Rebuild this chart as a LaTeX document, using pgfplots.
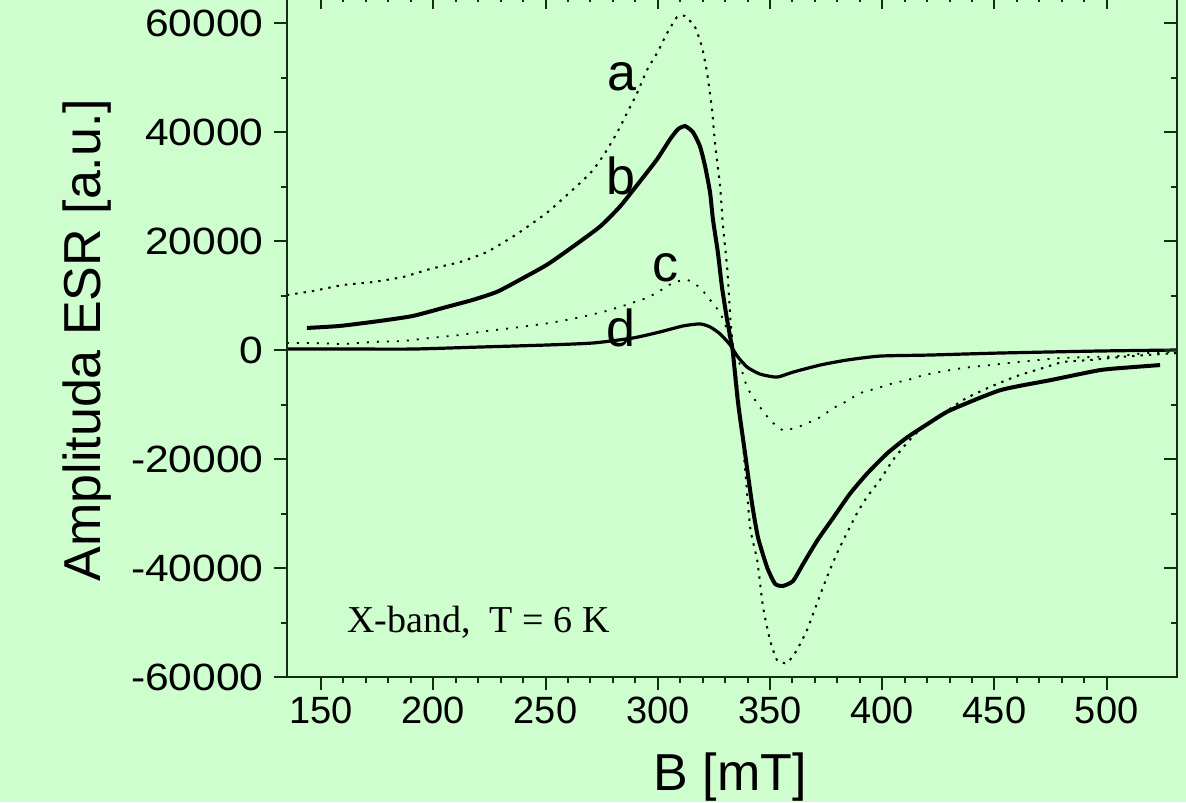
\documentclass[border=0pt]{standalone}
\usepackage{pgfplots}
\pgfplotsset{compat=1.18}
\usepackage{pgfplotstable}
\usepackage{fontspec}
\setmainfont{Liberation Sans}
\newfontfamily\seriff{Liberation Serif}
\newfontfamily\ytickf{Liberation Sans}[FakeStretch=1.12]
\definecolor{bg}{RGB}{206,253,206}
\definecolor{ax}{RGB}{20,45,20}

\pgfplotstableread{
x y
134.8 10090
146.4 10830
159.8 11930
173.2 12480
186.5 13400
198.5 14860
211.9 16150
223.9 17980
237.3 21290
251.0 25320
265.4 30640
271.2 33030
276.5 36150
281.8 39820
286.3 43490
290.8 47160
295.2 51380
299.7 54500
304.2 58170
308.6 61100
312.1 61290
316.6 59270
319.7 55600
322.0 50830
324.2 44040
325.5 37980
327.8 29910
329.1 22570
330.9 15230
332.3 6055
333.6 0
337.1 -12845
341.1 -32300
344.3 -38540
346.9 -47160
350.0 -53215
353.1 -56885
357.6 -57435
362.0 -55050
366.5 -51380
371.0 -46425
375.4 -41655
379.9 -37250
384.3 -33580
388.8 -29910
393.2 -26975
399.0 -23855
404.8 -20185
411.0 -17065
416.8 -14680
436.0 -9175
448.0 -6790
460.0 -4770
471.6 -3300
480.5 -2200
492.6 -1835
506.0 -1285
518.0 -917
531.0 -550
}\curvea

\pgfplotstableread{
x y
143.7 4050
158.4 4420
176.3 5340
191.0 6260
206.1 7920
217.7 9210
228.4 10680
238.6 12890
250.7 15660
262.2 18970
274.3 22660
283.2 26340
292.1 30950
299.7 35000
305.5 38680
309.0 40520
312.2 41080
315.7 39970
318.8 37390
321.1 33710
323.3 28920
324.6 23950
326.8 17870
328.6 11600
330.9 5530
333.1 550
333.5 -550
335.8 -9760
338.9 -18970
342.0 -28180
344.7 -34450
348.8 -39970
352.3 -42920
355.8 -43290
360.3 -42370
364.8 -39230
371.0 -35000
378.2 -30760
385.7 -26340
393.3 -22660
402.2 -18970
411.1 -16030
421.4 -13260
430.3 -11050
452.6 -7370
474.9 -5530
497.1 -3680
511.8 -3130
523.8 -2760
}\curveb

\pgfplotstableread{
x y
134.8 1290
146.4 1290
159.8 1105
173.2 1470
186.5 1660
198.5 2210
211.9 2760
223.9 3500
235.5 4050
252.0 4970
264.0 5890
275.6 7000
283.2 7920
295.2 9580
301.0 10870
306.8 12340
313.1 12890
318.9 11420
323.3 9210
327.8 6820
330.9 3680
333.1 550
336.7 -2760
339.8 -6820
344.3 -9760
350.1 -12890
355.8 -14740
362.1 -14180
366.5 -13450
372.3 -12340
378.1 -10680
382.6 -9760
390.2 -7920
397.8 -7000
404.9 -6080
411.1 -5530
416.9 -4790
422.8 -4240
435.6 -3320
448.1 -2760
460.1 -2210
479.3 -1470
492.6 -1290
504.7 -1105
518.1 -550
531.0 -370
}\curvec

\pgfplotstableread{
x y
134.8 180
163.0 180
191.0 180
220.8 550
250.7 920
271.2 1290
289.0 2210
301.0 3320
311.3 4420
318.8 4790
323.3 4240
327.8 2950
332.3 920
335.4 -1110
339.8 -3130
345.6 -4420
353.1 -4970
360.3 -4050
372.3 -2760
384.3 -1840
399.0 -1110
421.3 -920
452.6 -550
497.1 -180
531.2 0
}\curved

\pgfplotsset{
  commonaxis/.style={
    at={(143.35pt,62.5pt)}, anchor=south west,
    scale only axis, width=445pt, height=340.6pt,
    xmin=134.7, xmax=531.2, ymin=-60000, ymax=65000,
    xtick={150,200,...,500}, minor x tick num=4,
    ytick={-60000,-40000,...,60000}, minor y tick num=1,
    major tick length=6.5pt, minor tick length=3pt,
    axis line style={ax, line width=1.2pt},
    every tick/.style={ax, line width=1pt},
    scaled y ticks=false,
  }
}

\begin{document}
\begin{tikzpicture}
\fill[bg] (0,0) rectangle (593pt,401pt);
\useasboundingbox (0,0) rectangle (593pt,401pt);
\begin{axis}[
  commonaxis,
  tick align=outside, xtick pos=left, ytick pos=left,
  /pgf/number format/assume math mode=true,
  /pgf/number format/1000 sep={},
  xticklabel style={font=\fontsize{19}{22}\selectfont, text=black},
  yticklabel style={font=\ytickf\fontsize{19}{22}\selectfont, text=black, xshift=-1.5pt},
]
\addplot[black, line width=1pt, dash pattern=on 1.2pt off 3pt, smooth, tension=0.3] table[x=x,y=y] {\curvea};
\addplot[black, line width=2pt, smooth, tension=0.35] table[x=x,y=y] {\curveb};
\addplot[black, line width=0.9pt, dash pattern=on 1pt off 4pt, smooth, tension=0.3] table[x=x,y=y] {\curvec};
\addplot[black, line width=1.6pt, smooth, tension=0.35] table[x=x,y=y] {\curved};
\node[font=\fontsize{26}{30}\selectfont] at (axis cs:284.1,50100) {a};
\node[font=\fontsize{26}{30}\selectfont] at (axis cs:283.6,31930) {b};
\node[font=\fontsize{26}{30}\selectfont] at (axis cs:303.6,15050) {c};
\node[font=\fontsize{26}{30}\selectfont] at (axis cs:283.6,4040) {d};
\node[anchor=base west, font=\seriff\fontsize{19}{22}\selectfont, inner sep=0pt] at (axis cs:161.6,-51750) {X-band,\ \ T = 6 K};
\end{axis}
\begin{axis}[
  commonaxis,
  tick align=inside, xtick pos=right, ytick pos=right,
  xticklabels={}, yticklabels={},
]
\end{axis}
\node[anchor=base, font=\fontsize{26}{30}\selectfont] at (365pt,5.8pt) {B [mT]};
\node[rotate=90, anchor=base, font=\fontsize{26}{30}\selectfont] at (50pt,231pt) {Amplituda ESR [a.u.]};
\end{tikzpicture}
\end{document}
